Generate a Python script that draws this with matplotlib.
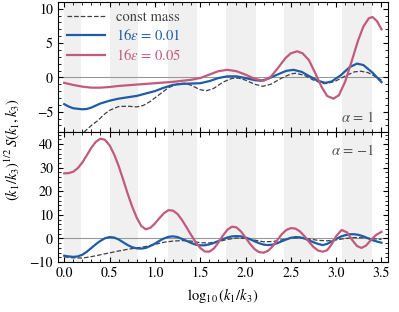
import numpy as np
import matplotlib
matplotlib.use('Agg')
import matplotlib.pyplot as plt
from matplotlib.ticker import MultipleLocator

plt.rcParams['font.family'] = ['STIXGeneral', 'DejaVu Serif']
plt.rcParams['mathtext.fontset'] = 'stix'
plt.rcParams['font.size'] = 10

# shaded bands (log10 k1/k3)
band_lo = [0.0, 0.50, 1.14, 1.78, 2.42, 3.06]
band_hi = [0.18, 0.81, 1.46, 2.12, 2.76, 3.39]

# alpha = 1 panel
x_d1 = [0.0, 0.1, 0.2, 0.3, 0.37, 0.45, 0.5, 0.6, 0.7, 0.8, 0.87, 0.95, 1.05, 1.15, 1.25, 1.33, 1.4, 1.5,
        1.57, 1.65, 1.75, 1.85, 1.92, 2.0, 2.1, 2.19, 2.28, 2.4, 2.5, 2.55, 2.65, 2.75, 2.85, 2.9, 3.0, 3.1,
        3.2, 3.27, 3.35, 3.45, 3.5]
y_d1 = [-13, -10.5, -8.2, -7.0, -6.3, -5.3, -4.8, -4.25, -4.2, -4.3, -4.1, -3.5, -2.5, -1.5, -0.95, -0.85,
        -1.15, -1.8, -1.95, -1.6, -0.7, -0.15, -0.1, -0.4, -1.0, -1.3, -1.0, -0.1, 0.5, 0.6, 0.3, -0.4, -0.9,
        -0.9, -0.5, 0.2, 0.8, 0.9, 0.7, 0.0, -0.4]

x_b1 = [0.0, 0.05, 0.1, 0.2, 0.25, 0.3, 0.4, 0.5, 0.6, 0.7, 0.8, 0.9, 1.0, 1.1, 1.2, 1.3, 1.4, 1.5, 1.6, 1.7,
        1.8, 1.9, 2.0, 2.1, 2.17, 2.25, 2.35, 2.45, 2.53, 2.62, 2.7, 2.8, 2.88, 2.95, 3.05, 3.15, 3.23, 3.3,
        3.4, 3.5]
y_b1 = [-3.9, -4.25, -4.5, -4.65, -4.6, -4.4, -3.8, -3.4, -3.1, -2.9, -2.7, -2.35, -2.0, -1.5, -1.1, -0.95,
        -0.9, -0.85, -0.55, -0.1, 0.15, 0.15, -0.1, -0.4, -0.5, -0.2, 0.4, 0.95, 1.1, 0.8, 0.2, -0.5, -0.8,
        -0.6, 0.3, 1.5, 2.0, 1.8, 0.7, -0.7]

x_p1 = [0.0, 0.1, 0.2, 0.3, 0.4, 0.5, 0.6, 0.7, 0.8, 0.9, 1.0, 1.1, 1.2, 1.3, 1.4, 1.5, 1.6, 1.7, 1.8, 1.9,
        2.0, 2.1, 2.2, 2.28, 2.36, 2.44, 2.5, 2.57, 2.63, 2.7, 2.77, 2.84, 2.9, 2.97, 3.03, 3.1, 3.17, 3.24,
        3.3, 3.36, 3.4, 3.45, 3.5]
y_p1 = [-0.8, -1.1, -1.35, -1.5, -1.5, -1.4, -1.25, -1.15, -1.05, -0.95, -0.85, -0.75, -0.65, -0.5, -0.35,
        -0.1, 0.4, 0.9, 1.1, 0.9, 0.4, -0.2, -0.5, 0.1, 1.4, 2.8, 3.5, 3.8, 3.5, 2.5, 0.6, -1.4, -2.7, -3.1,
        -2.6, -0.6, 2.3, 5.3, 7.4, 8.6, 8.8, 8.2, 7.0]

# alpha = -1 panel
x_d2 = [0.0, 0.1, 0.2, 0.3, 0.4, 0.5, 0.6, 0.7, 0.8, 0.9, 1.0, 1.1, 1.2, 1.3, 1.4, 1.5, 1.6, 1.7, 1.8, 1.9,
        2.0, 2.1, 2.2, 2.3, 2.4, 2.5, 2.6, 2.7, 2.8, 2.9, 3.0, 3.1, 3.2, 3.3, 3.4, 3.5]
y_d2 = [-7.8, -8.2, -8.3, -7.7, -6.9, -6.1, -5.3, -4.6, -4.0, -3.4, -2.5, -1.6, -1.1, -0.9, -1.1, -1.8,
        -1.9, -1.3, -0.4, 0.2, 0.1, -0.7, -1.4, -1.3, -0.6, 0.1, 0.3, -0.2, -0.8, -1.0, -0.6, 0.0, 0.4, 0.3,
        -0.1, -0.4]

x_b2 = [0.0, 0.05, 0.1, 0.15, 0.2, 0.25, 0.3, 0.35, 0.4, 0.45, 0.5, 0.55, 0.6, 0.65, 0.7, 0.75, 0.8, 0.85,
        0.9, 0.95, 1.0, 1.05, 1.1, 1.15, 1.2, 1.25, 1.3, 1.35, 1.4, 1.45, 1.5, 1.55, 1.6, 1.65, 1.7, 1.75,
        1.8, 1.85, 1.9, 1.95, 2.0, 2.05, 2.1, 2.15, 2.2, 2.25, 2.3, 2.35, 2.4, 2.45, 2.5, 2.55, 2.6, 2.65,
        2.7, 2.75, 2.8, 2.85, 2.9, 2.95, 3.0, 3.05, 3.1, 3.15, 3.2, 3.25, 3.3, 3.35, 3.4, 3.45, 3.5]
y_b2 = [-7.3, -7.6, -7.8, -7.6, -6.9, -5.6, -4.0, -2.4, -1.0, 0.1, 0.6, 0.4, -0.4, -1.6, -2.8, -3.7, -4.2,
        -4.3, -4.0, -3.2, -2.2, -1.0, 0.0, 0.7, 0.9, 0.6, -0.2, -1.0, -1.9, -2.6, -2.9, -2.9, -2.5, -1.9,
        -1.1, -0.3, 0.4, 0.9, 1.0, 0.9, 0.4, -0.3, -1.2, -2.0, -2.6, -2.8, -2.6, -2.0, -1.2, -0.4, 0.3, 0.6,
        0.5, 0.0, -0.8, -1.6, -2.3, -2.8, -2.3, -1.3, -0.2, 0.8, 1.4, 1.8, 1.8, 1.5, 0.9, 0.1, -0.7, -1.3,
        -1.8]

x_p2 = [0.0, 0.05, 0.1, 0.15, 0.2, 0.25, 0.3, 0.35, 0.4, 0.45, 0.5, 0.55, 0.6, 0.65, 0.7, 0.75, 0.8, 0.85,
        0.9, 0.95, 1.0, 1.05, 1.1, 1.15, 1.2, 1.25, 1.3, 1.35, 1.4, 1.45, 1.5, 1.55, 1.6, 1.65, 1.7, 1.75,
        1.8, 1.85, 1.9, 1.95, 2.0, 2.05, 2.1, 2.15, 2.2, 2.25, 2.3, 2.35, 2.4, 2.45, 2.5, 2.55, 2.6, 2.65,
        2.7, 2.75, 2.8, 2.85, 2.9, 2.95, 3.0, 3.06, 3.12, 3.18, 3.23, 3.28, 3.33, 3.38, 3.44, 3.5]
y_p2 = [27.6, 27.7, 28.3, 29.8, 32.2, 35.3, 38.5, 41.0, 42.3, 41.8, 39.5, 35.7, 30.8, 25.0, 19.0, 13.5,
        8.8, 5.3, 3.9, 4.5, 6.3, 8.6, 10.7, 12.0, 11.8, 10.4, 7.8, 4.7, 1.5, -1.6, -4.0, -5.5, -5.6, -4.3,
        -1.8, 1.2, 3.7, 5.0, 4.7, 3.0, 0.4, -2.3, -4.5, -5.8, -6.0, -5.2, -3.3, -0.7, 1.8, 3.6, 4.4, 4.2,
        3.0, 1.0, -1.4, -3.6, -5.1, -5.6, -5.0, -2.5, 1.0, 3.6, 2.6, -0.8, -3.2, -4.0, -3.0, -0.8, 1.5, 2.8]

c_blue = '#1f5ca6'
c_pink = '#c25a7c'
c_dash = '#404040'

fig = plt.figure(figsize=(3.99, 3.12), dpi=100)
ax1 = fig.add_axes([0.145, 0.576, 0.827, 0.418])
ax2 = fig.add_axes([0.145, 0.160, 0.827, 0.416])

for ax in (ax1, ax2):
    for lo, hi in zip(band_lo, band_hi):
        ax.axvspan(lo, hi, color='#f0f0f0', lw=0, zorder=0)
    ax.axhline(0, color='#999999', lw=0.8, zorder=1)
    ax.set_xlim(-0.07, 3.57)
    ax.xaxis.set_major_locator(MultipleLocator(0.5))
    ax.xaxis.set_minor_locator(MultipleLocator(0.1))
    ax.tick_params(which='both', direction='in', top=True, right=True, labelsize=10)
    ax.tick_params(which='major', length=3.5)
    ax.tick_params(which='minor', length=2)

ax1.plot(x_d1, y_d1, '--', color=c_dash, lw=0.9, label='const mass')
ax1.plot(x_b1, y_b1, color=c_blue, lw=1.6, label=r'$16\epsilon$ = 0.01')
ax1.plot(x_p1, y_p1, color=c_pink, lw=1.6, label=r'$16\epsilon$ = 0.05')
ax1.set_ylim(-8, 11)
ax1.yaxis.set_major_locator(MultipleLocator(5))
ax1.yaxis.set_minor_locator(MultipleLocator(1))
ax1.tick_params(labelbottom=False)
ax1.legend(loc='upper left', frameon=False, labelcolor='linecolor', handlelength=2.6,
           labelspacing=0.3, borderaxespad=0.2, fontsize=10.5)
ax1.text(3.42, -5.8, r'$\alpha$ = 1', ha='right', va='center', color='#555555', fontsize=10.5)

ax2.plot(x_d2, y_d2, '--', color=c_dash, lw=0.9)
ax2.plot(x_b2, y_b2, color=c_blue, lw=1.6)
ax2.plot(x_p2, y_p2, color=c_pink, lw=1.6)
ax2.set_ylim(-10, 45)
ax2.yaxis.set_major_locator(MultipleLocator(10))
ax2.yaxis.set_minor_locator(MultipleLocator(2))
ax2.text(3.42, 37.3, r'$\alpha$ = $-1$', ha='right', va='center', color='#555555', fontsize=10.5)
ax2.set_xlabel(r'$\log_{10}(k_1/k_3)$', fontsize=10.5)

fig.text(0.03, 0.52, r'$(k_1/k_3)^{1/2}\,S(k_1,k_3)$', rotation=90, ha='center', va='center', fontsize=10.5)

fig.savefig('out.png', dpi=100)
